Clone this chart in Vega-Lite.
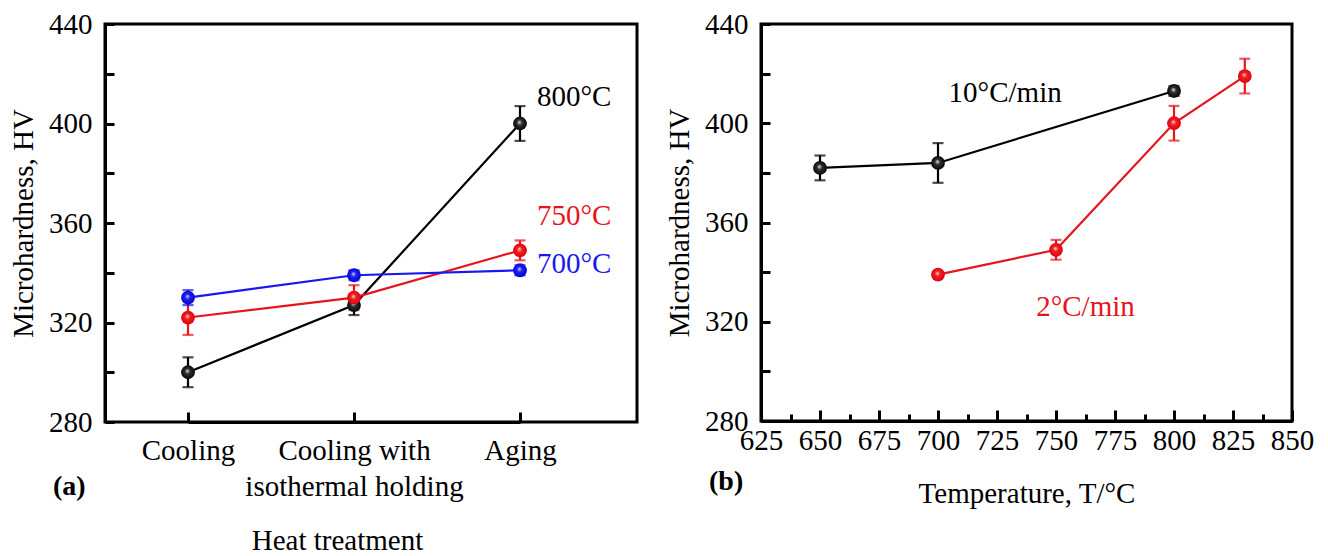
{
  "$schema": "https://vega.github.io/schema/vega-lite/v6.json",
  "background": "white",
  "padding": {"left": 8, "top": 8, "right": 10, "bottom": 0},
  "spacing": 25,
  "config": {
    "font": "Liberation Serif",
    "view": {"stroke": "black", "strokeWidth": 3},
    "axis": {
      "labelFont": "Liberation Serif", "labelFontSize": 29, "labelColor": "black",
      "titleFont": "Liberation Serif", "titleFontSize": 29, "titleFontWeight": "normal", "titleColor": "black",
      "domainColor": "black", "domainWidth": 3, "ticks": true, "tickColor": "black", "tickWidth": 3, "grid": false
    },
    "title": {"font": "Liberation Serif", "fontSize": 28, "fontWeight": "bold", "color": "black"}
  },
  "resolve": {"scale": {"x": "independent", "y": "independent", "color": "independent"}},
  "datasets": {
    "a": [
      {"treat": "Cooling", "idx": 1, "series": "800", "hv": 300, "lo": 294, "hi": 306},
      {"treat": "Cooling with isothermal holding", "idx": 2, "series": "800", "hv": 327, "lo": 323, "hi": 331},
      {"treat": "Aging", "idx": 3, "series": "800", "hv": 400, "lo": 393, "hi": 407},
      {"treat": "Cooling", "idx": 1, "series": "750", "hv": 322, "lo": 315, "hi": 329},
      {"treat": "Cooling with isothermal holding", "idx": 2, "series": "750", "hv": 330, "lo": 325, "hi": 335},
      {"treat": "Aging", "idx": 3, "series": "750", "hv": 349, "lo": 345, "hi": 353},
      {"treat": "Cooling", "idx": 1, "series": "700", "hv": 330, "lo": 327, "hi": 333},
      {"treat": "Cooling with isothermal holding", "idx": 2, "series": "700", "hv": 339, "lo": 337, "hi": 341},
      {"treat": "Aging", "idx": 3, "series": "700", "hv": 341, "lo": 339, "hi": 343}
    ],
    "a_labels": [
      {"label": "800°C", "treat": "Aging", "hv": 410.7, "series": "800"},
      {"label": "750°C", "treat": "Aging", "hv": 362.8, "series": "750"},
      {"label": "700°C", "treat": "Aging", "hv": 343.5, "series": "700"}
    ],
    "b": [
      {"temp": 650, "series": "10", "hv": 382, "lo": 377, "hi": 387},
      {"temp": 700, "series": "10", "hv": 384, "lo": 376, "hi": 392},
      {"temp": 800, "series": "10", "hv": 413, "lo": 411, "hi": 415},
      {"temp": 700, "series": "2", "hv": 339, "lo": 338, "hi": 340},
      {"temp": 750, "series": "2", "hv": 349, "lo": 345, "hi": 353},
      {"temp": 800, "series": "2", "hv": 400, "lo": 393, "hi": 407},
      {"temp": 830, "series": "2", "hv": 419, "lo": 412, "hi": 426}
    ],
    "b_labels": [
      {"label": "10°C/min", "temp": 704.5, "hv": 412.3, "series": "10"},
      {"label": "2°C/min", "temp": 741.6, "hv": 325.9, "series": "2"}
    ]
  },
  "hconcat": [
    {
      "width": 532,
      "height": 398,
      "view": {"stroke": "black", "strokeWidth": 3},
      "title": {"text": "(a)", "orient": "bottom", "anchor": "start", "frame": "group", "dx": -52, "offset": -82},
      "data": {"name": "a"},
      "encoding": {
        "x": {
          "field": "treat", "type": "ordinal",
          "scale": {"type": "point", "domain": ["Cooling", "Cooling with isothermal holding", "Aging"], "range": [83, 415], "padding": 0},
          "axis": {
            "title": "Heat treatment", "labelAngle": 0, "tickSize": -10, "labelPadding": 24,
            "labelLineHeight": 36, "labelLimit": 500,
            "labelExpr": "datum.value == 'Cooling with isothermal holding' ? ['Cooling with', 'isothermal holding'] : datum.label",
            "titleX": 232, "titleY": 118, "titleBaseline": "middle", "titleAlign": "center", "titleAnchor": null
          }
        },
        "y": {
          "field": "hv", "type": "quantitative",
          "scale": {"domain": [280, 440], "nice": false, "zero": false},
          "axis": {
            "title": "Microhardness, HV",
            "values": [280, 300, 320, 340, 360, 380, 400, 420, 440],
            "labelExpr": "datum.value % 40 == 0 ? datum.label : ''",
            "tickSize": -9, "labelPadding": 22, "titlePadding": 10
          }
        },
        "color": {
          "field": "series", "type": "nominal", "legend": null,
          "scale": {"domain": ["800", "750", "700"], "range": ["#000000", "#e8141b", "#1818ee"]}
        }
      },
      "layer": [
        {"mark": {"type": "line", "strokeWidth": 2.2}, "encoding": {"order": {"field": "idx", "type": "quantitative"}}},
        {"mark": {"type": "rule", "strokeWidth": 2.2}, "encoding": {"y": {"field": "lo", "type": "quantitative"}, "y2": {"field": "hi"}}},
        {"mark": {"type": "tick", "orient": "horizontal", "size": 11, "thickness": 2.2}, "encoding": {"y": {"field": "lo", "type": "quantitative"}}},
        {"mark": {"type": "tick", "orient": "horizontal", "size": 11, "thickness": 2.2}, "encoding": {"y": {"field": "hi", "type": "quantitative"}}},
        {
          "transform": [{"filter": "datum.series == '800'"}],
          "mark": {"type": "point", "shape": "circle", "size": 190, "filled": true, "opacity": 1,
            "fill": {"gradient": "radial", "x1": 0.45, "y1": 0.4, "r1": 0, "x2": 0.5, "y2": 0.5, "r2": 0.55,
              "stops": [{"offset": 0, "color": "#e0e0e0"}, {"offset": 0.35, "color": "#303030"}, {"offset": 1, "color": "#000000"}]}},
          "encoding": {"color": {"value": null}}
        },
        {
          "transform": [{"filter": "datum.series == '750'"}],
          "mark": {"type": "point", "shape": "circle", "size": 190, "filled": true, "opacity": 1,
            "fill": {"gradient": "radial", "x1": 0.45, "y1": 0.4, "r1": 0, "x2": 0.5, "y2": 0.5, "r2": 0.55,
              "stops": [{"offset": 0, "color": "#ffd0d0"}, {"offset": 0.35, "color": "#f02020"}, {"offset": 1, "color": "#d80010"}]}},
          "encoding": {"color": {"value": null}}
        },
        {
          "transform": [{"filter": "datum.series == '700'"}],
          "mark": {"type": "point", "shape": "circle", "size": 190, "filled": true, "opacity": 1,
            "fill": {"gradient": "radial", "x1": 0.45, "y1": 0.4, "r1": 0, "x2": 0.5, "y2": 0.5, "r2": 0.55,
              "stops": [{"offset": 0, "color": "#d0d0ff"}, {"offset": 0.35, "color": "#2020f0"}, {"offset": 1, "color": "#0000d0"}]}},
          "encoding": {"color": {"value": null}}
        },
        {
          "data": {"name": "a_labels"},
          "mark": {"type": "text", "align": "left", "baseline": "middle", "dx": 17, "fontSize": 29, "font": "Liberation Serif"},
          "encoding": {"text": {"field": "label"}}
        }
      ]
    },
    {
      "width": 531,
      "height": 397,
      "view": {"stroke": "black", "strokeWidth": 3},
      "title": {"text": "(b)", "orient": "bottom", "anchor": "start", "frame": "group", "dx": -52, "offset": -40},
      "data": {"name": "b"},
      "encoding": {
        "x": {
          "field": "temp", "type": "quantitative",
          "scale": {"domain": [625, 850], "nice": false, "zero": false},
          "axis": {
            "title": "Temperature, T/°C",
            "values": [625, 637.5, 650, 662.5, 675, 687.5, 700, 712.5, 725, 737.5, 750, 762.5, 775, 787.5, 800, 812.5, 825, 837.5, 850],
            "labelExpr": "datum.value % 25 == 0 ? datum.label : ''",
            "tickSize": {"condition": {"test": "datum.value % 25 == 0", "value": -11}, "value": -7},
            "labelPadding": 16, "labelFlush": false, "labelOverlap": false,
            "titleY": 72, "titleBaseline": "middle"
          }
        },
        "y": {
          "field": "hv", "type": "quantitative",
          "scale": {"domain": [280, 440], "nice": false, "zero": false},
          "axis": {
            "title": "Microhardness, HV",
            "values": [280, 300, 320, 340, 360, 380, 400, 420, 440],
            "labelExpr": "datum.value % 40 == 0 ? datum.label : ''",
            "tickSize": -9, "labelPadding": 22, "titlePadding": 10
          }
        },
        "color": {
          "field": "series", "type": "nominal", "legend": null,
          "scale": {"domain": ["10", "2"], "range": ["#000000", "#e8141b"]}
        }
      },
      "layer": [
        {"mark": {"type": "line", "strokeWidth": 2.2}},
        {"mark": {"type": "rule", "strokeWidth": 2.2}, "encoding": {"y": {"field": "lo", "type": "quantitative"}, "y2": {"field": "hi"}}},
        {"mark": {"type": "tick", "orient": "horizontal", "size": 11, "thickness": 2.2}, "encoding": {"y": {"field": "lo", "type": "quantitative"}}},
        {"mark": {"type": "tick", "orient": "horizontal", "size": 11, "thickness": 2.2}, "encoding": {"y": {"field": "hi", "type": "quantitative"}}},
        {
          "transform": [{"filter": "datum.series == '10'"}],
          "mark": {"type": "point", "shape": "circle", "size": 190, "filled": true, "opacity": 1,
            "fill": {"gradient": "radial", "x1": 0.45, "y1": 0.4, "r1": 0, "x2": 0.5, "y2": 0.5, "r2": 0.55,
              "stops": [{"offset": 0, "color": "#e0e0e0"}, {"offset": 0.35, "color": "#303030"}, {"offset": 1, "color": "#000000"}]}},
          "encoding": {"color": {"value": null}}
        },
        {
          "transform": [{"filter": "datum.series == '2'"}],
          "mark": {"type": "point", "shape": "circle", "size": 190, "filled": true, "opacity": 1,
            "fill": {"gradient": "radial", "x1": 0.45, "y1": 0.4, "r1": 0, "x2": 0.5, "y2": 0.5, "r2": 0.55,
              "stops": [{"offset": 0, "color": "#ffd0d0"}, {"offset": 0.35, "color": "#f02020"}, {"offset": 1, "color": "#d80010"}]}},
          "encoding": {"color": {"value": null}}
        },
        {
          "data": {"name": "b_labels"},
          "mark": {"type": "text", "align": "left", "baseline": "middle", "fontSize": 29, "font": "Liberation Serif"},
          "encoding": {"text": {"field": "label"}}
        }
      ]
    }
  ]
}
